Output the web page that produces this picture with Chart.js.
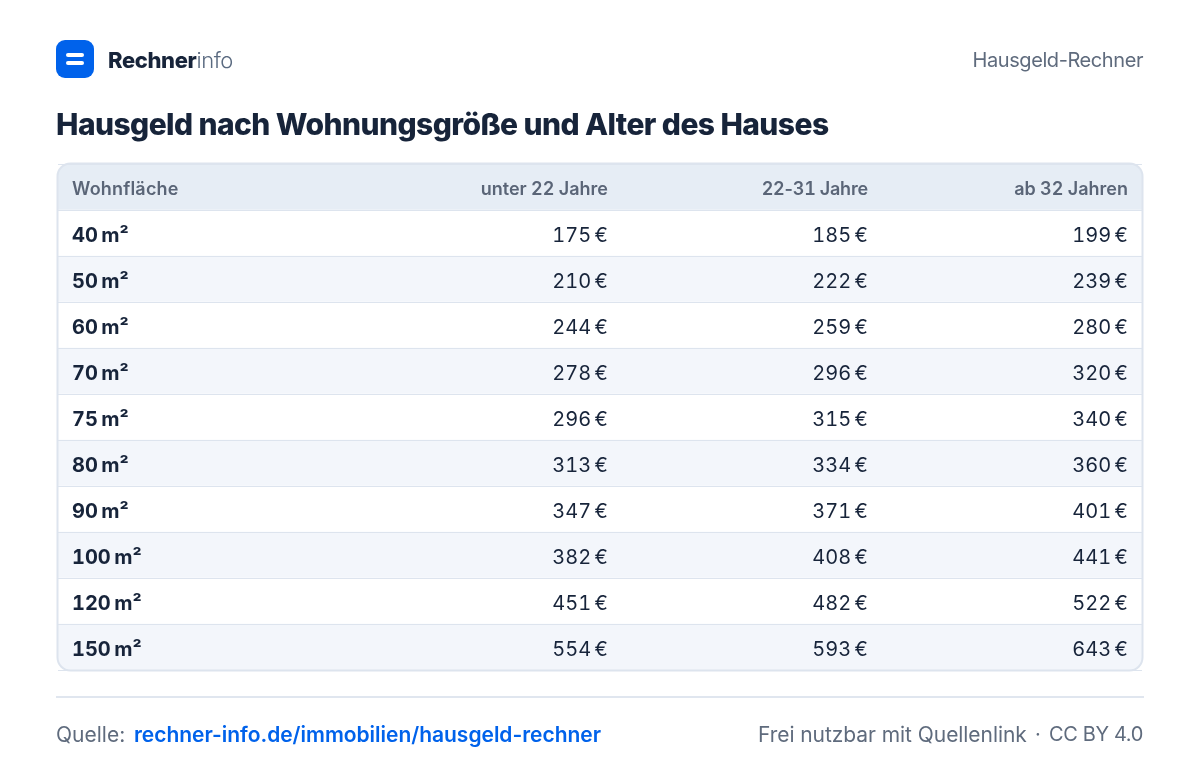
<!DOCTYPE html>
<html lang="de"><head><meta charset="utf-8">
<script src="https://cdn.jsdelivr.net/npm/chart.js@4"></script>
<style>
html,body{margin:0;padding:0;background:#fff;width:1200px;height:776px;overflow:hidden;font-family:Inter,sans-serif}
canvas{position:absolute;left:0;top:0}
.t{position:absolute;white-space:nowrap;line-height:1}
.cell{position:absolute;white-space:nowrap;line-height:1}
#logo{position:absolute;left:56px;top:40px;width:38px;height:38px;border-radius:9px;background:#0062eb}
#logo i{position:absolute;left:10px;width:18px;height:4px;border-radius:2px;background:#fff}
#rule{position:absolute;left:56px;top:696px;width:1088px;height:2px;background:#e0e6ef}
</style></head><body>
<canvas id="c" width="1200" height="776"></canvas>
<div id="logo"><i style="top:13px"></i><i style="top:21px"></i></div>
<div class="t" style="left:108px;top:49px;font-size:22px;font-weight:800;letter-spacing:-.38px;color:#17243a">Rechner<span style="font-weight:300;color:#5a6a80;letter-spacing:-.4px">info</span></div>
<div class="t" style="right:57px;top:50px;font-size:20px;letter-spacing:-.42px;color:#5f6b7d">Hausgeld-Rechner</div>
<div class="t" style="left:56px;top:109px;font-size:30px;font-weight:800;letter-spacing:-.58px;color:#17243a">Hausgeld nach Wohnungsgröße und Alter des Hauses</div>
<div id="rule"></div>
<div class="t" style="left:56px;top:724px;font-size:21px;color:#5f6b7d">Quelle:</div>
<div class="t" style="left:134px;top:724px;font-size:21px;font-weight:600;letter-spacing:-.025px;color:#0062eb">rechner-info.de/immobilien/hausgeld-rechner</div>
<div class="t" style="left:758px;top:724px;font-size:21px;letter-spacing:-.06px;color:#5f6b7d">Frei nutzbar mit Quellenlink</div>
<div class="t" style="left:1035px;top:724px;font-size:20px;color:#5f6b7d">·</div>
<div class="t" style="right:57px;top:724px;font-size:20px;letter-spacing:-.35px;color:#5f6b7d">CC BY 4.0</div>
<script>
const headerLabel = 'Wohnfläche';
const sizes = ['40 m²','50 m²','60 m²','70 m²','75 m²','80 m²','90 m²','100 m²','120 m²','150 m²'];
const columns = ['unter 22 Jahre','22-31 Jahre','ab 32 Jahren'];
const under22 = [175,210,244,278,296,313,347,382,451,554];
const from22to31 = [185,222,259,296,315,334,371,408,482,593];
const from32 = [199,239,280,320,340,360,401,441,522,643];

const rows = [headerLabel, ...sizes];
const series = [under22, from22to31, from32];
const X_MIN = -1.115, X_MAX = 3.054;

const FONT = 'Inter, sans-serif';
const bandColor = i => i === 0 ? '#e6edf5' : (i % 2 === 0 ? '#f3f6fb' : '#ffffff');
const last = rows.length - 1;

function putText(text, x, y, head, right, weight) {
  const n = document.createElement('div');
  n.className = 'cell';
  if (text.includes('-')) {
    const [a, b] = text.split('-');
    const dash = document.createElement('span');
    dash.textContent = '-';
    dash.style.fontVariantNumeric = 'normal';
    n.append(a, dash, b);
    n.style.letterSpacing = '-.2px';
  } else {
    n.textContent = text;
  }
  n.style.font = weight + ' ' + (head ? 18 : 20) + 'px ' + FONT;
  n.style.lineHeight = '1';
  n.style.fontVariantNumeric = 'tabular-nums';
  n.style.color = head ? '#5a6577' : '#17243a';
  n.style.wordSpacing = head ? '-.5px' : '-2px';
  if (text === headerLabel) n.style.letterSpacing = '.2px';
  n.style.left = x + 'px';
  n.style.top = (y + 2) + 'px';
  n.style.transform = 'translate(' + (right ? '-100%' : '0') + ',-50%)';
  document.body.appendChild(n);
}

const cellLabels = {
  id: 'cellLabels',
  afterDatasetsDraw(chart) {
    const {ctx, chartArea: a} = chart;
    ctx.save();
    ctx.beginPath();
    ctx.roundRect(a.left - .5, a.top - .5, a.right - a.left + 1, a.bottom - a.top + 1, 13);
    ctx.lineWidth = 2;
    ctx.strokeStyle = '#dde4ee';
    ctx.stroke();
    ctx.restore();
  },
  afterRender(chart) {
    document.querySelectorAll('.cell').forEach(n => n.remove());
    const yScale = chart.scales.y;
    rows.forEach((r, i) => putText(r, yScale.right + 14, yScale.getPixelForValue(i), i === 0, false, i === 0 ? 600 : 700));
    chart.data.datasets.forEach((ds, di) => {
      if (ds.type !== 'scatter') return;
      chart.getDatasetMeta(di).data.forEach((pt, i) => {
        putText(i === 0 ? columns[ds.col] : series[ds.col][i - 1] + ' €', pt.x, pt.y, i === 0, true, i === 0 ? 600 : 400);
      });
    });
  }
};

new Chart(document.getElementById('c'), {
  data: {
    labels: rows,
    datasets: [
      {
        type: 'bar', indexAxis: 'y', label: 'Zeilen',
        data: rows.map(() => [X_MIN, X_MAX]),
        backgroundColor: rows.map((_, i) => bandColor(i)),
        barPercentage: 1, categoryPercentage: 1, borderSkipped: false, order: 2,
        borderRadius: ctx => ctx.dataIndex === 0 ? {topLeft: 13, topRight: 13, bottomLeft: 0, bottomRight: 0}
          : ctx.dataIndex === last ? {topLeft: 0, topRight: 0, bottomLeft: 13, bottomRight: 13} : 0
      },
      ...columns.map((name, k) => ({
        type: 'scatter', label: name, col: k, order: 1, pointRadius: 0,
        data: rows.map(r => ({x: k + 1, y: r}))
      }))
    ]
  },
  options: {
    responsive: false, animation: false,
    layout: {padding: {left: 58, right: 58, top: 164, bottom: 106}},
    plugins: {legend: {display: false}, tooltip: {enabled: false}, title: {display: false}},
    scales: {
      x: {type: 'linear', min: X_MIN, max: X_MAX, display: false},
      y: {
        type: 'category', labels: rows, offset: true,
        afterFit: s => { s.width = 0; },
        border: {display: false},
        grid: {offset: true, color: '#dde4ee', lineWidth: 1, drawTicks: false, z: 1},
        ticks: {display: false}
      }
    }
  },
  plugins: [cellLabels]
});
</script></body></html>
